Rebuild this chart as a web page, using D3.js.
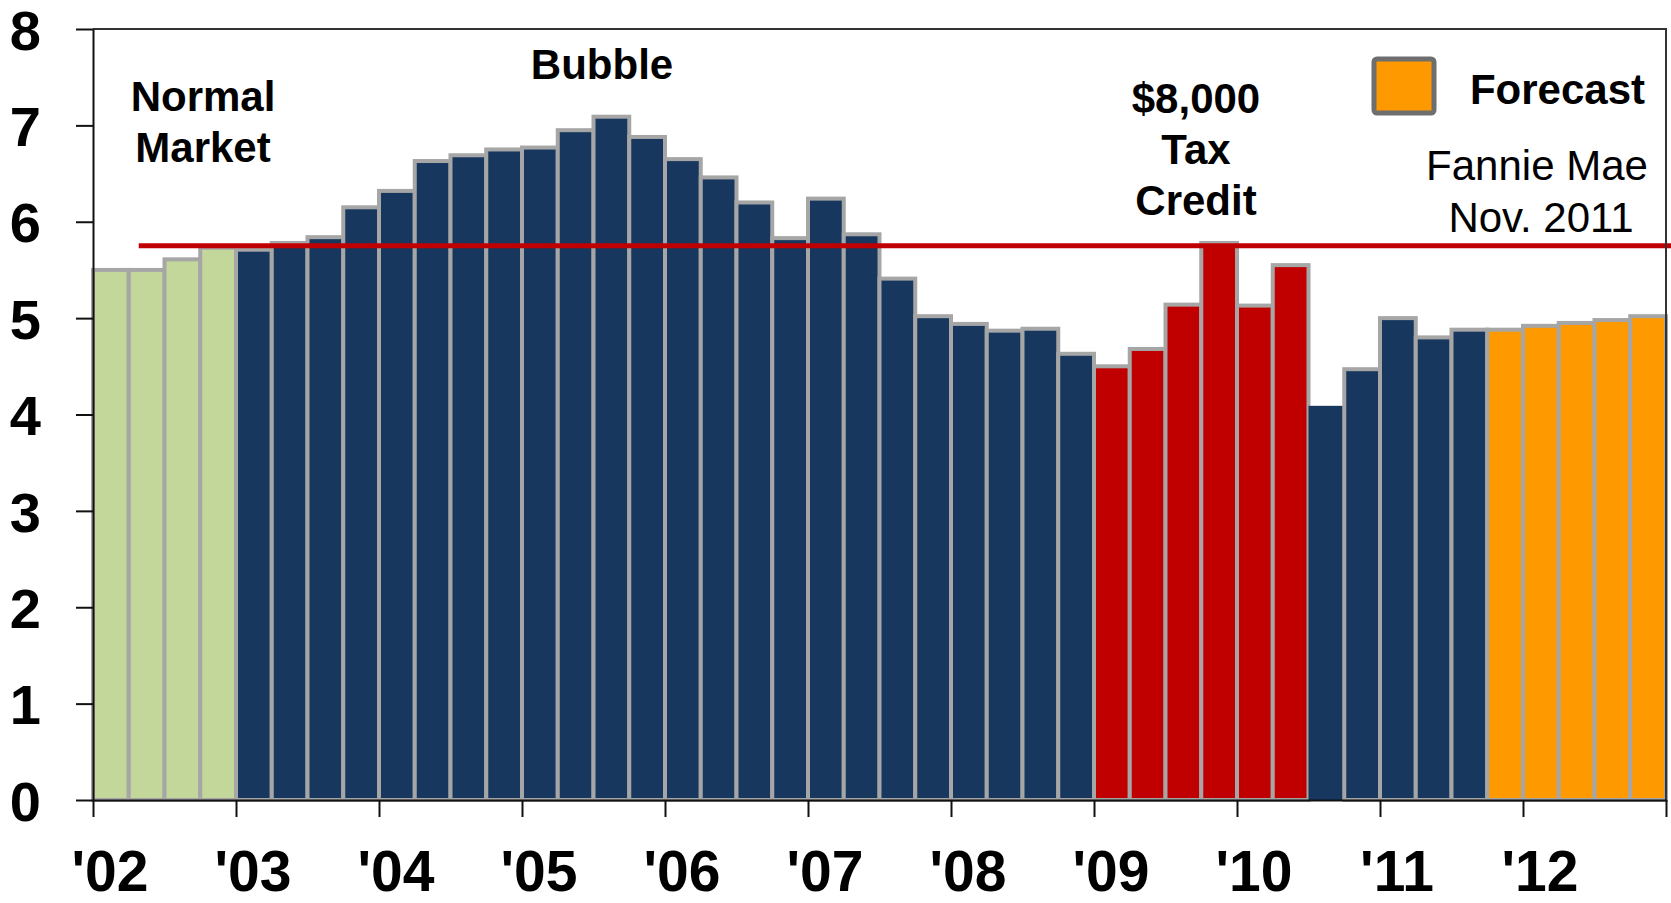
<!DOCTYPE html>
<html>
<head>
<meta charset="utf-8">
<script src="https://cdn.jsdelivr.net/npm/d3@7"></script>
<style>
  body { margin: 0; background: #fff; }
  svg { display: block; font-family: Arial, "Liberation Sans", sans-serif; }
</style>
</head>
<body>
<svg id="chart" width="1671" height="903"></svg>
<script>
// quarterly values 2002 Q1 .. 2012 Q4
var years = [2002, 2003, 2004, 2005, 2006, 2007, 2008, 2009, 2010, 2011, 2012]
var quarters = []
years.forEach(function (y) { [1, 2, 3, 4].forEach(function (q) { quarters.push(y + " Q" + q) }) })

var values = [
  5.50, 5.50, 5.61, 5.73,   // 2002
  5.71, 5.78, 5.84, 6.15,   // 2003
  6.32, 6.63, 6.69, 6.75,   // 2004
  6.77, 6.95, 7.09, 6.88,   // 2005
  6.65, 6.46, 6.20, 5.83,   // 2006
  6.24, 5.87, 5.41, 5.02,   // 2007
  4.94, 4.87, 4.89, 4.63,   // 2008
  4.50, 4.68, 5.14, 5.78,   // 2009
  5.13, 5.55, 4.09, 4.47,   // 2010
  5.00, 4.80, 4.88, 4.88,   // 2011
  4.92, 4.95, 4.98, 5.02    // 2012
]

var periods = [
  "normal", "normal", "normal", "normal",
  "bubble", "bubble", "bubble", "bubble",
  "bubble", "bubble", "bubble", "bubble",
  "bubble", "bubble", "bubble", "bubble",
  "bubble", "bubble", "bubble", "bubble",
  "bubble", "bubble", "bubble", "bubble",
  "bubble", "bubble", "bubble", "bubble",
  "credit", "credit", "credit", "credit",
  "credit", "credit", "actual", "actual",
  "actual", "actual", "actual", "forecast",
  "forecast", "forecast", "forecast", "forecast"
]
var unframed = ["2010 Q3"]   // this bar has no grey outline in the source

var normalLevel = 5.75
var yTicks = [0, 1, 2, 3, 4, 5, 6, 7, 8]

var svg = d3.select("#chart")
var plotL = 93, plotR = 1666, plotT = 29, plotB = 800

var x = d3.scaleBand().domain(quarters).range([plotL, plotR]).padding(0)
var xYear = d3.scaleLinear().domain([2002, 2013]).range([plotL, plotR])
var y = d3.scaleLinear().domain([0, 8]).range([plotB, plotT])
var color = d3.scaleOrdinal()
  .domain(["normal", "bubble", "credit", "actual", "forecast"])
  .range(["#c4d79b", "#17375e", "#c00000", "#17375e", "#ff9900"])

var defs = svg.append("defs")
defs.append("filter").attr("id", "shadow")
  .attr("x", "-5%").attr("y", "-200%").attr("width", "110%").attr("height", "500%")
  .append("feGaussianBlur").attr("stdDeviation", 2)

// bars
var data = quarters.map(function (q, i) { return { q: q, v: values[i], p: periods[i] } })
svg.append("g").selectAll("rect")
  .data(data)
  .enter().append("rect")
  .attr("x", function (d) { return x(d.q) })
  .attr("width", x.bandwidth())
  .attr("y", function (d) { return y(d.v) })
  .attr("height", function (d) { return y(0) - y(d.v) })
  .attr("fill", function (d) { return color(d.p) })
  .attr("stroke", function (d) { return unframed.includes(d.q) ? "none" : "#a6a6a6" })
  .attr("stroke-width", 4)

// reference line with soft shadow
var lineX0 = x("2002 Q2") + 10
svg.append("line")
  .attr("x1", lineX0).attr("x2", 1671)
  .attr("y1", y(normalLevel) + 4).attr("y2", y(normalLevel) + 4)
  .attr("stroke", "#999").attr("stroke-width", 4).attr("opacity", 0.6)
  .attr("filter", "url(#shadow)")
svg.append("line")
  .attr("x1", lineX0).attr("x2", 1671)
  .attr("y1", y(normalLevel)).attr("y2", y(normalLevel))
  .attr("stroke", "#c00000").attr("stroke-width", 5)

// frame top/right
svg.append("path")
  .attr("d", "M" + plotL + "," + plotT + "H" + plotR + "V" + plotB)
  .attr("fill", "none").attr("stroke", "#333").attr("stroke-width", 2)

// y axis
var yAxis = svg.append("g")
  .attr("transform", "translate(" + plotL + ",0)")
  .call(d3.axisLeft(y).tickValues(yTicks).tickSize(17).tickSizeOuter(0).tickPadding(35))
yAxis.select(".domain").attr("stroke", "#111").attr("stroke-width", 2)
yAxis.selectAll(".tick line").attr("stroke", "#111").attr("stroke-width", 2)
yAxis.selectAll(".tick text")
  .attr("font-family", "Arial, 'Liberation Sans', sans-serif")
  .attr("font-size", 56).attr("font-weight", "bold").attr("fill", "#000")
  .attr("dy", "0.36em")

// x axis
var xAxis = svg.append("g")
  .attr("transform", "translate(0," + plotB + ")")
  .call(d3.axisBottom(xYear).tickValues(years.concat([2013])).tickSize(17).tickSizeOuter(0).tickFormat(""))
xAxis.select(".domain").attr("stroke", "#111").attr("stroke-width", 2)
xAxis.selectAll(".tick line").attr("stroke", "#111").attr("stroke-width", 2)

svg.append("g").selectAll("text")
  .data(years)
  .enter().append("text")
  .attr("x", function (d) { return xYear(d) + 17 })
  .attr("y", 891)
  .attr("text-anchor", "middle")
  .attr("font-size", 57).attr("font-weight", "bold")
  .text(function (d) { return "'" + String(d).slice(2) })

// annotations
function label(lines, cx, y0, weight) {
  var t = svg.append("text")
    .attr("text-anchor", "middle")
    .attr("font-size", 42).attr("font-weight", weight)
  lines.forEach(function (s, i) {
    t.append("tspan").attr("x", cx).attr("y", y0 + i * 51).text(s)
  })
}
label(["Normal", "Market"], 203, 111, "bold")
label(["Bubble"], 602, 79, "bold")
label(["$8,000", "Tax", "Credit"], 1196, 113, "bold")
label(["Fannie Mae"], 1537, 180, "normal")
label(["Nov. 2011"], 1541, 232, "normal")

// legend
svg.append("rect")
  .attr("x", 1374).attr("y", 59).attr("width", 60).attr("height", 54)
  .attr("rx", 3)
  .attr("fill", color("forecast")).attr("stroke", "#6e6e6e").attr("stroke-width", 5)
svg.append("text")
  .attr("x", 1645).attr("y", 104)
  .attr("text-anchor", "end")
  .attr("font-size", 42).attr("font-weight", "bold")
  .text("Forecast")
</script>
</body>
</html>
